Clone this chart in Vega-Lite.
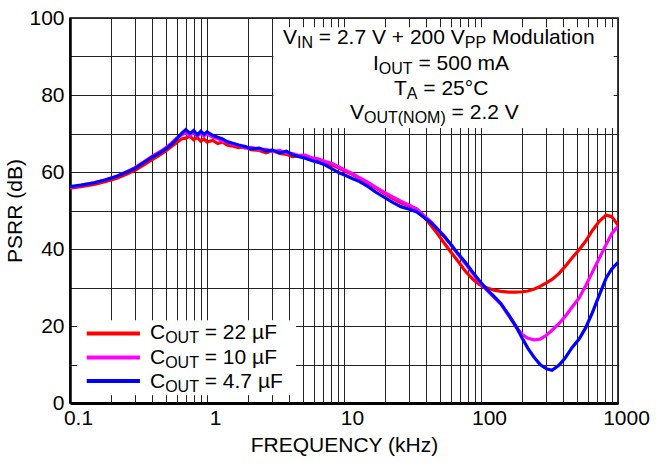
{
  "$schema": "https://vega.github.io/schema/vega-lite/v6.json",
  "width": 548,
  "height": 385,
  "autosize": {"type": "none"},
  "padding": {"left": 70, "top": 18, "right": 40, "bottom": 60},
  "background": "white",
  "config": {
    "font": "Liberation Sans",
    "view": {"stroke": "black", "strokeWidth": 1.5},
    "axis": {"labelColor": "black", "titleColor": "black", "titleFontWeight": "normal"}
  },
  "datasets": {
    "curves": [
      {"f": 0.1, "c22": 55.8, "c10": 56.0, "c47": 56.2},
      {"f": 0.12, "c22": 56.2, "c10": 56.5, "c47": 56.6},
      {"f": 0.15, "c22": 56.8, "c10": 57.2, "c47": 57.2},
      {"f": 0.18, "c22": 57.5, "c10": 57.9, "c47": 57.9},
      {"f": 0.22, "c22": 58.4, "c10": 58.9, "c47": 58.9},
      {"f": 0.26, "c22": 59.5, "c10": 60.1, "c47": 60.0},
      {"f": 0.3, "c22": 60.5, "c10": 61.2, "c47": 61.0},
      {"f": 0.35, "c22": 62.0, "c10": 62.8, "c47": 62.6},
      {"f": 0.4, "c22": 63.3, "c10": 64.1, "c47": 63.9},
      {"f": 0.45, "c22": 64.4, "c10": 65.2, "c47": 64.9},
      {"f": 0.5, "c22": 65.5, "c10": 66.3, "c47": 66.0},
      {"f": 0.55, "c22": 66.6, "c10": 67.5, "c47": 67.2},
      {"f": 0.6, "c22": 67.6, "c10": 68.8, "c47": 68.5},
      {"f": 0.65, "c22": 68.6, "c10": 69.6, "c47": 70.0},
      {"f": 0.7, "c22": 68.8, "c10": 70.2, "c47": 71.0},
      {"f": 0.75, "c22": 69.3, "c10": 69.5, "c47": 70.0},
      {"f": 0.8, "c22": 68.4, "c10": 70.3, "c47": 70.8},
      {"f": 0.85, "c22": 69.0, "c10": 69.3, "c47": 69.6},
      {"f": 0.9, "c22": 68.0, "c10": 70.0, "c47": 70.6},
      {"f": 0.95, "c22": 68.6, "c10": 69.4, "c47": 69.8},
      {"f": 1.0, "c22": 67.8, "c10": 69.9, "c47": 70.4},
      {"f": 1.1, "c22": 68.2, "c10": 69.0, "c47": 69.5},
      {"f": 1.2, "c22": 67.4, "c10": 68.7, "c47": 69.0},
      {"f": 1.3, "c22": 67.8, "c10": 68.0, "c47": 68.6},
      {"f": 1.4, "c22": 67.0, "c10": 67.8, "c47": 67.9},
      {"f": 1.5, "c22": 66.8, "c10": 67.3, "c47": 67.6},
      {"f": 1.7, "c22": 66.3, "c10": 66.9, "c47": 67.0},
      {"f": 1.9, "c22": 66.5, "c10": 66.2, "c47": 66.6},
      {"f": 2.1, "c22": 65.8, "c10": 66.4, "c47": 66.0},
      {"f": 2.4, "c22": 65.6, "c10": 65.8, "c47": 66.2},
      {"f": 2.7, "c22": 65.0, "c10": 65.9, "c47": 65.5},
      {"f": 3.0, "c22": 65.5, "c10": 65.3, "c47": 65.7},
      {"f": 3.4, "c22": 64.8, "c10": 65.6, "c47": 65.0},
      {"f": 3.8, "c22": 64.6, "c10": 64.9, "c47": 65.4},
      {"f": 4.2, "c22": 64.0, "c10": 64.8, "c47": 64.5},
      {"f": 4.7, "c22": 64.2, "c10": 64.3, "c47": 64.0},
      {"f": 5.2, "c22": 63.8, "c10": 64.4, "c47": 63.6},
      {"f": 5.8, "c22": 63.6, "c10": 63.7, "c47": 63.0},
      {"f": 6.5, "c22": 63.0, "c10": 63.4, "c47": 62.5},
      {"f": 7.3, "c22": 62.6, "c10": 62.7, "c47": 61.8},
      {"f": 8.2, "c22": 61.8, "c10": 62.2, "c47": 60.8},
      {"f": 9.2, "c22": 61.0, "c10": 61.3, "c47": 59.8},
      {"f": 10, "c22": 60.3, "c10": 60.6, "c47": 59.3},
      {"f": 11.5, "c22": 59.4, "c10": 59.6, "c47": 58.3},
      {"f": 13, "c22": 58.3, "c10": 58.5, "c47": 57.5},
      {"f": 15, "c22": 57.1, "c10": 57.3, "c47": 56.2},
      {"f": 17, "c22": 55.9, "c10": 56.1, "c47": 54.8},
      {"f": 20, "c22": 54.3, "c10": 54.6, "c47": 53.3},
      {"f": 23, "c22": 53.0, "c10": 53.4, "c47": 52.0},
      {"f": 26, "c22": 52.0, "c10": 52.4, "c47": 51.0},
      {"f": 30, "c22": 51.2, "c10": 51.4, "c47": 50.3},
      {"f": 34, "c22": 50.4, "c10": 50.3, "c47": 49.6},
      {"f": 38, "c22": 48.6, "c10": 48.8, "c47": 48.3},
      {"f": 43, "c22": 46.2, "c10": 47.1, "c47": 46.9},
      {"f": 48, "c22": 44.0, "c10": 45.3, "c47": 45.2},
      {"f": 54, "c22": 41.5, "c10": 43.4, "c47": 43.2},
      {"f": 60, "c22": 39.3, "c10": 41.2, "c47": 41.3},
      {"f": 68, "c22": 36.8, "c10": 38.6, "c47": 38.8},
      {"f": 77, "c22": 34.2, "c10": 36.2, "c47": 36.5},
      {"f": 87, "c22": 32.2, "c10": 33.7, "c47": 34.0},
      {"f": 97, "c22": 30.8, "c10": 31.5, "c47": 31.8},
      {"f": 110, "c22": 29.9, "c10": 29.4, "c47": 29.6},
      {"f": 125, "c22": 29.3, "c10": 27.4, "c47": 27.6},
      {"f": 140, "c22": 29.0, "c10": 25.6, "c47": 25.8},
      {"f": 160, "c22": 28.8, "c10": 22.6, "c47": 22.8},
      {"f": 180, "c22": 28.8, "c10": 19.8, "c47": 19.9},
      {"f": 200, "c22": 28.9, "c10": 17.8, "c47": 16.8},
      {"f": 220, "c22": 29.1, "c10": 16.8, "c47": 14.2},
      {"f": 245, "c22": 29.6, "c10": 16.4, "c47": 11.8},
      {"f": 270, "c22": 30.3, "c10": 16.6, "c47": 10.0},
      {"f": 300, "c22": 31.2, "c10": 17.6, "c47": 8.9},
      {"f": 330, "c22": 32.1, "c10": 18.9, "c47": 8.5},
      {"f": 370, "c22": 33.6, "c10": 20.6, "c47": 9.8},
      {"f": 410, "c22": 35.4, "c10": 22.4, "c47": 11.6},
      {"f": 460, "c22": 37.6, "c10": 24.8, "c47": 14.3},
      {"f": 520, "c22": 39.8, "c10": 27.3, "c47": 16.6},
      {"f": 580, "c22": 42.0, "c10": 30.4, "c47": 19.5},
      {"f": 650, "c22": 44.8, "c10": 34.0, "c47": 23.5},
      {"f": 730, "c22": 47.2, "c10": 37.6, "c47": 28.0},
      {"f": 820, "c22": 48.8, "c10": 41.2, "c47": 32.5},
      {"f": 900, "c22": 48.4, "c10": 44.0, "c47": 34.8},
      {"f": 1000, "c22": 46.2, "c10": 45.9, "c47": 36.5}
    ],
    "boxes": [
      {"f": 0.1125, "f2": 4.46, "db": 2, "db2": 21.5},
      {"f": 3.05, "f2": 930, "db": 71.4, "db2": 97.6}
    ],
    "legendLines": [
      {"f": 0.1324, "f2": 0.324, "db": 18.05, "key": "c22"},
      {"f": 0.1324, "f2": 0.324, "db": 11.8, "key": "c10"},
      {"f": 0.1324, "f2": 0.324, "db": 5.7, "key": "c47"}
    ],
    "texts": [
      {"f": 0.3839, "db": 16.5, "t": "C", "k": "main"},
      {"f": 0.4948, "db": 16.5, "t": "OUT", "k": "sub"},
      {"f": 0.963, "db": 16.5, "t": "= 22 µF", "k": "main"},
      {"f": 0.3839, "db": 10.2, "t": "C", "k": "main"},
      {"f": 0.4948, "db": 10.2, "t": "OUT", "k": "sub"},
      {"f": 0.963, "db": 10.2, "t": "= 10 µF", "k": "main"},
      {"f": 0.3839, "db": 4.0, "t": "C", "k": "main"},
      {"f": 0.4948, "db": 4.0, "t": "OUT", "k": "sub"},
      {"f": 0.963, "db": 4.0, "t": "= 4.7 µF", "k": "main"},
      {"f": 3.587, "db": 93.2, "t": "V", "k": "main"},
      {"f": 4.538, "db": 93.2, "t": "IN", "k": "sub"},
      {"f": 6.549, "db": 93.2, "t": "= 2.7 V + 200 V", "k": "main"},
      {"f": 76.17, "db": 93.2, "t": "PP", "k": "sub"},
      {"f": 120.1, "db": 93.2, "t": "Modulation", "k": "main"},
      {"f": 16.28, "db": 86.4, "t": "I", "k": "main"},
      {"f": 17.95, "db": 86.4, "t": "OUT", "k": "sub"},
      {"f": 34.99, "db": 86.4, "t": "= 500 mA", "k": "main"},
      {"f": 23.17, "db": 79.9, "t": "T", "k": "main"},
      {"f": 28.73, "db": 79.9, "t": "A", "k": "sub"},
      {"f": 37.92, "db": 79.9, "t": "= 25°C", "k": "main"},
      {"f": 11.06, "db": 73.7, "t": "V", "k": "main"},
      {"f": 14.0, "db": 73.7, "t": "OUT(NOM)", "k": "sub"},
      {"f": 61.01, "db": 73.7, "t": "= 2.2 V", "k": "main"}
    ]
  },
  "encoding": {
    "x": {
      "field": "f",
      "type": "quantitative",
      "scale": {"type": "log", "domain": [0.1, 1000], "nice": false},
      "axis": {
        "values": [0.1, 0.2, 0.3, 0.4, 0.5, 0.6, 0.7, 0.8, 0.9, 1, 2, 3, 4, 5, 6, 7, 8, 9, 10, 20, 30, 40, 50, 60, 70, 80, 90, 100, 200, 300, 400, 500, 600, 700, 800, 900, 1000],
        "labelExpr": "indexof([0.1, 1, 10, 100, 1000], datum.value) >= 0 ? datum.label : ''",
        "format": "~g",
        "grid": true,
        "gridColor": "#222222",
        "gridWidth": 1,
        "gridOpacity": 1,
        "ticks": false,
        "tickSize": 0,
        "domainColor": "black",
        "domainWidth": 3,
        "labelFontSize": 21,
        "labelPadding": 4,
        "labelOffset": 8,
        "labelFlush": false,
        "labelOverlap": false,
        "title": "FREQUENCY (kHz)",
        "titleFontSize": 21,
        "titlePadding": 6
      }
    },
    "y": {
      "field": "db",
      "type": "quantitative",
      "scale": {"domain": [0, 100], "nice": false},
      "axis": {
        "values": [0, 10, 20, 30, 40, 50, 60, 70, 80, 90, 100],
        "labelExpr": "datum.value % 20 == 0 ? datum.label : ''",
        "grid": true,
        "gridColor": "#222222",
        "gridWidth": 1,
        "gridOpacity": 1,
        "ticks": false,
        "tickSize": 0,
        "domainColor": "black",
        "domainWidth": 2.5,
        "labelFontSize": 21,
        "labelPadding": 6,
        "labelOverlap": false,
        "title": "PSRR (dB)",
        "titleFontSize": 21,
        "titlePadding": 3
      }
    }
  },
  "layer": [
    {
      "data": {"name": "boxes"},
      "mark": {"type": "rect", "fill": "white", "strokeWidth": 0},
      "encoding": {"x2": {"field": "f2"}, "y2": {"field": "db2"}}
    },
    {
      "data": {"name": "curves"},
      "transform": [{"fold": ["c22", "c10", "c47"], "as": ["key", "val"]}],
      "mark": {"type": "line", "strokeWidth": 3.2, "clip": true},
      "encoding": {
        "y": {"field": "val", "type": "quantitative"},
        "color": {
          "field": "key",
          "type": "nominal",
          "scale": {"domain": ["c22", "c10", "c47"], "range": ["#ff0000", "#ff00ff", "#0000ff"]},
          "legend": null
        }
      }
    },
    {
      "data": {"name": "legendLines"},
      "mark": {"type": "rule", "strokeWidth": 4},
      "encoding": {
        "x2": {"field": "f2"},
        "color": {"field": "key", "type": "nominal", "legend": null}
      }
    },
    {
      "data": {"name": "texts"},
      "transform": [{"filter": "datum.k == 'main'"}],
      "mark": {"type": "text", "align": "left", "baseline": "alphabetic", "fontSize": 21, "color": "black"},
      "encoding": {"text": {"field": "t"}}
    },
    {
      "data": {"name": "texts"},
      "transform": [{"filter": "datum.k == 'sub'"}],
      "mark": {"type": "text", "align": "left", "baseline": "alphabetic", "fontSize": 16, "dy": 4, "color": "black"},
      "encoding": {"text": {"field": "t"}}
    }
  ]
}
